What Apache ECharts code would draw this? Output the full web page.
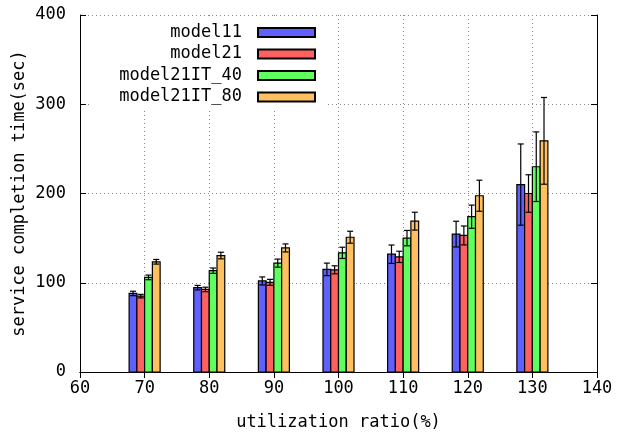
<!DOCTYPE html>
<html>
<head>
<meta charset="utf-8">
<script src="https://cdn.jsdelivr.net/npm/echarts@6/dist/echarts.min.js"></script>
<style>
  html, body { margin: 0; padding: 0; background: #fff; }
  #chart { width: 619px; height: 432px; }
</style>
</head>
<body>
<div id="chart"></div>
<script>
// utilization ratio (%)
var ratios = [70, 80, 90, 100, 110, 120, 130];

// service completion time (sec) and error half-widths
var model11      = [88, 94.5, 102, 115, 132, 154.5, 210];
var model11Err   = [2.5, 2.5, 4.5, 7, 10.3, 14.4, 45.5];
var model21      = [85, 92.5, 100.5, 114.5, 129, 153, 200];
var model21Err   = [2, 2.5, 3.3, 4.5, 6.3, 10.6, 21];
var model21IT40  = [106, 113.5, 122, 133.5, 150, 174, 230];
var model21IT40Err = [2.6, 3, 4.5, 6.3, 8.6, 13, 39];
var model21IT80  = [123.5, 130.5, 139, 151, 169, 197.5, 259];
var model21IT80Err = [2.6, 3.7, 4.5, 6.7, 10, 17.4, 48.6];

var xTicks = [60, 70, 80, 90, 100, 110, 120, 130, 140];
var yTicks = [0, 100, 200, 300, 400];

var seriesNames = ['model11', 'model21', 'model21IT_40', 'model21IT_80'];
var seriesVals  = [model11, model21, model21IT40, model21IT80];
var seriesErrs  = [model11Err, model21Err, model21IT40Err, model21IT80Err];
var colors = ['#6060ff', '#ff6060', '#60ff60', '#ffc060'];

var boxW = 1.2;   // bar width in x units
var font = 'DejaVu Sans Mono';

function makeRender(idx) {
    var off = (idx - 1.5) * boxW;
    return function (params, api) {
        var x = api.value(0) + off;
        var v = api.value(1);
        var e = api.value(2);
        var p0 = api.coord([x - boxW / 2, v]);
        var p1 = api.coord([x + boxW / 2, 0]);
        var top = api.coord([x, v + e]);
        var bot = api.coord([x, v - e]);
        var cap = 3;
        var ls = { stroke: '#000', lineWidth: 1.2 };
        return {
            type: 'group',
            children: [
                { type: 'rect',
                  shape: { x: p0[0], y: p0[1], width: p1[0] - p0[0], height: p1[1] - p0[1] },
                  style: { fill: colors[idx], stroke: '#000', lineWidth: 1.2 } },
                { type: 'line', shape: { x1: top[0], y1: top[1], x2: bot[0], y2: bot[1] }, style: ls },
                { type: 'line', shape: { x1: top[0] - cap, y1: top[1], x2: top[0] + cap, y2: top[1] }, style: ls },
                { type: 'line', shape: { x1: bot[0] - cap, y1: bot[1], x2: bot[0] + cap, y2: bot[1] }, style: ls }
            ]
        };
    };
}

var series = seriesNames.map(function (name, i) {
    return {
        name: name,
        type: 'custom',
        xAxisIndex: 0,
        yAxisIndex: 0,
        renderItem: makeRender(i),
        itemStyle: { color: colors[i], borderColor: '#000', borderWidth: 1 },
        encode: { x: 0, y: 1 },
        data: ratios.map(function (r, j) { return [r, seriesVals[i][j], seriesErrs[i][j]]; }),
        z: 3
    };
});

var tickStyle = { show: true, inside: true, length: 6, lineStyle: { color: '#000' } };
var lineStyle = { show: true, lineStyle: { color: '#000', width: 1 } };
var split = { show: true, lineStyle: { color: '#888', type: [1, 3], width: 1 } };

var option = {
    animation: false,
    backgroundColor: '#fff',
    textStyle: { fontFamily: font },
    grid: { left: 80, right: 22, top: 15, bottom: 60, outerBoundsMode: 'none', containLabel: false },
    legend: {
        data: seriesNames,
        orient: 'vertical',
        align: 'right',
        right: 291,
        top: 17,
        padding: [7, 12, 4, 28],
        backgroundColor: '#fff',
        itemWidth: 57,
        itemHeight: 9,
        itemGap: 4.5,
        icon: 'rect',
        selectedMode: false,
        textStyle: { fontFamily: font, fontSize: 17, color: '#000', lineHeight: 14, padding: [0, 11, 0, 0] },
        z: 10
    },
    xAxis: [{
        type: 'value',
        min: xTicks[0], max: xTicks[xTicks.length - 1], interval: 10,
        name: 'utilization ratio(%)',
        nameLocation: 'middle',
        nameGap: 42,
        nameMoveOverlap: false,
        nameTextStyle: { fontFamily: font, fontSize: 17, color: '#000' },
        axisLine: lineStyle,
        axisTick: tickStyle,
        axisLabel: { fontFamily: font, fontSize: 17, color: '#000', margin: 8 },
        splitLine: split
    }, {
        type: 'value',
        position: 'top',
        min: xTicks[0], max: xTicks[xTicks.length - 1], interval: 10,
        axisLine: lineStyle,
        axisTick: tickStyle,
        axisLabel: { show: false },
        splitLine: { show: false }
    }],
    yAxis: [{
        type: 'value',
        min: yTicks[0], max: yTicks[yTicks.length - 1], interval: 100,
        name: 'service completion time(sec)',
        nameLocation: 'middle',
        nameGap: 52,
        nameMoveOverlap: false,
        nameTextStyle: { fontFamily: font, fontSize: 17, color: '#000' },
        axisLine: lineStyle,
        axisTick: tickStyle,
        axisLabel: { fontFamily: font, fontSize: 17, color: '#000', margin: 14 },
        splitLine: split
    }, {
        type: 'value',
        position: 'right',
        min: yTicks[0], max: yTicks[yTicks.length - 1], interval: 100,
        axisLine: lineStyle,
        axisTick: tickStyle,
        axisLabel: { show: false },
        splitLine: { show: false }
    }],
    series: series
};

echarts.init(document.getElementById('chart')).setOption(option);
</script>
</body>
</html>
